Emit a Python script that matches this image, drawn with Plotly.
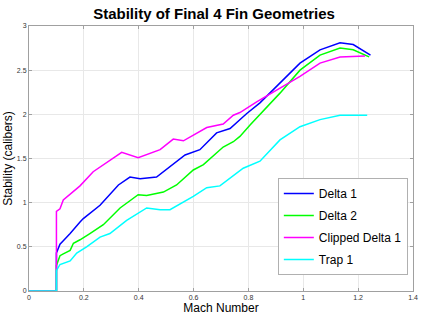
import plotly.graph_objects as go

# Delta 1
d1_x = [0, 0.1, 0.1, 0.113, 0.125, 0.15, 0.186, 0.198, 0.259, 0.326, 0.368, 0.405, 0.465, 0.514, 0.569, 0.623, 0.684, 0.733, 0.769, 0.794, 0.842, 0.915, 0.988, 1.061, 1.134, 1.182, 1.237, 1.245]
d1_y = [0, 0, 0.43, 0.53, 0.57, 0.65, 0.78, 0.82, 0.97, 1.20, 1.29, 1.27, 1.29, 1.41, 1.54, 1.60, 1.79, 1.84, 1.94, 2.01, 2.13, 2.35, 2.58, 2.73, 2.81, 2.79, 2.69, 2.67]
# Delta 2
d2_x = [0, 0.1, 0.1, 0.113, 0.125, 0.15, 0.162, 0.186, 0.222, 0.271, 0.332, 0.398, 0.429, 0.49, 0.538, 0.599, 0.636, 0.708, 0.745, 0.769, 0.806, 0.842, 0.915, 0.988, 1.061, 1.134, 1.182, 1.24]
d2_y = [0, 0, 0.29, 0.40, 0.42, 0.46, 0.54, 0.58, 0.65, 0.75, 0.94, 1.09, 1.08, 1.12, 1.20, 1.37, 1.43, 1.63, 1.69, 1.75, 1.88, 2.00, 2.24, 2.50, 2.67, 2.75, 2.73, 2.65]
# Clipped Delta 1
cd_x = [0, 0.1, 0.1, 0.113, 0.125, 0.15, 0.186, 0.234, 0.295, 0.338, 0.398, 0.478, 0.526, 0.563, 0.648, 0.708, 0.745, 0.769, 0.83, 0.915, 0.988, 1.061, 1.134, 1.225]
cd_y = [0, 0, 0.90, 0.93, 1.03, 1.10, 1.19, 1.35, 1.48, 1.57, 1.51, 1.60, 1.72, 1.70, 1.85, 1.89, 1.99, 2.02, 2.14, 2.30, 2.43, 2.58, 2.65, 2.66]
# Trap 1
tr_x = [0, 0.1, 0.1, 0.113, 0.15, 0.174, 0.21, 0.259, 0.295, 0.356, 0.429, 0.478, 0.514, 0.599, 0.648, 0.696, 0.781, 0.842, 0.915, 0.988, 1.061, 1.134, 1.195, 1.233]
tr_y = [0, 0, 0.23, 0.30, 0.34, 0.43, 0.50, 0.61, 0.65, 0.80, 0.94, 0.92, 0.92, 1.07, 1.17, 1.19, 1.39, 1.47, 1.71, 1.86, 1.94, 1.99, 1.99, 1.99]

names = ["Delta 1", "Delta 2", "Clipped Delta 1", "Trap 1"]
colors = ["#0000ff", "#00ff00", "#ff00ff", "#00ffff"]
xs = [d1_x, d2_x, cd_x, tr_x]
ys = [d1_y, d2_y, cd_y, tr_y]

fig = go.Figure()
for i, (n, c, x, y) in enumerate(zip(names, colors, xs, ys)):
    fig.add_trace(go.Scatter(x=x, y=y, mode="lines", name=n, legendgroup=f"g{i}",
                             line=dict(color=c, width=1.5)))

axis_common = dict(
    showgrid=True, gridcolor="#e8e8e8", gridwidth=1,
    showline=True, linecolor="#a0a0a0", linewidth=1, mirror="ticks",
    ticks="inside", ticklen=3, tickcolor="#a0a0a0",
    tickfont=dict(size=7, color="#333333", family="Liberation Sans"),
    zeroline=False, automargin=False,
)

fig.update_layout(
    width=428, height=321,
    margin=dict(l=29, r=15, t=26, b=30),
    paper_bgcolor="white", plot_bgcolor="white",
    font=dict(family="Liberation Sans", color="black"),
    title=dict(text="<b>Stability of Final 4 Fin Geometries</b>", x=0.5, xanchor="center",
               y=1 - 14 / 321, yanchor="middle", font=dict(size=15, color="black")),
    xaxis=dict(range=[0, 1.4], dtick=0.2,
               title=dict(text="Mach Number", font=dict(size=12), standoff=3), **axis_common),
    yaxis=dict(range=[0, 3], dtick=0.5,
               title=dict(text="Stability (calibers)", font=dict(size=12), standoff=1), **axis_common),
    legend=dict(x=0.648, y=0.426, xanchor="left", yanchor="top",
                bgcolor="white", bordercolor="#b0b0b0", borderwidth=1,
                font=dict(size=12, color="black"), itemwidth=30, tracegroupgap=3),
    showlegend=True,
)

fig.write_html("out.html")
